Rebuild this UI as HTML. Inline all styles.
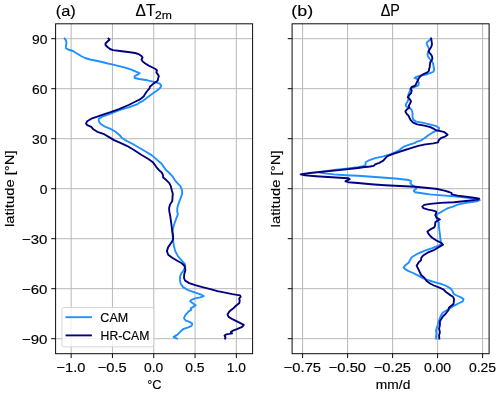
<!DOCTYPE html>
<html><head><meta charset="utf-8"><style>html,body{margin:0;padding:0;background:#fff;overflow:hidden}svg{display:block;will-change:transform}text{font-family:"Liberation Sans",sans-serif;fill:#000;stroke:#000;stroke-width:0.15px}</style></head><body>
<svg width="500" height="395" viewBox="0 0 500 395">
<rect x="0" y="0" width="500" height="395" fill="#fff"/>
<path transform="translate(0.10,0.20)" d="M71.05 23.60V353.50M112.35 23.60V353.50M153.65 23.60V353.50M194.95 23.60V353.50M236.25 23.60V353.50M55.50 38.50H252.50M55.50 88.50H252.50M55.50 138.50H252.50M55.50 188.50H252.50M55.50 238.50H252.50M55.50 288.50H252.50M55.50 338.50H252.50" stroke="#b8b8b8" stroke-width="1" fill="none"/>
<clipPath id="cl"><rect x="55.50" y="23.60" width="197.00" height="329.90"/></clipPath>
<polyline clip-path="url(#cl)" points="64.60,38.50 65.90,40.40 66.50,42.80 65.90,46.00 65.90,47.90 68.00,49.50 73.00,51.00 77.00,53.50 81.00,56.00 85.00,58.00 90.00,59.50 95.00,60.50 102.00,62.00 108.00,63.50 112.00,64.30 118.00,65.80 125.20,67.60 130.60,69.40 136.00,71.70 139.70,73.10 137.70,74.70 134.60,76.20 134.60,78.00 139.20,79.00 147.60,80.30 155.20,82.20 159.70,83.70 161.30,85.60 160.50,87.50 157.50,90.20 153.70,92.80 149.90,95.50 146.10,98.50 143.00,100.80 140.00,102.30 137.00,104.40 128.60,107.40 120.00,109.90 110.50,113.60 102.40,116.60 98.80,118.70 98.80,121.20 100.40,123.70 104.40,126.30 110.50,128.80 115.50,131.80 120.00,135.40 121.40,137.40 125.60,140.40 132.80,144.00 140.00,148.20 146.00,151.80 152.00,155.40 156.80,159.60 161.60,163.80 165.40,169.40 169.30,173.00 172.30,176.10 174.40,179.60 177.40,183.20 180.40,186.20 182.00,190.20 182.20,193.80 180.90,197.30 179.40,201.40 177.90,205.40 177.30,208.50 177.20,211.60 177.90,214.10 176.40,218.20 174.90,222.20 173.30,227.30 172.50,231.30 172.50,235.40 173.10,239.40 173.70,245.00 175.20,251.10 178.30,256.70 181.80,260.70 184.90,263.80 185.40,266.80 183.30,270.90 181.30,273.40 180.10,276.40 180.00,280.00 180.60,283.60 183.10,287.10 188.20,290.20 195.20,292.70 201.30,294.70 203.80,296.10 200.30,297.30 195.20,298.30 191.20,299.80 190.20,301.30 192.70,303.30 195.70,305.20 193.20,306.90 190.70,308.40 191.20,309.90 188.70,311.40 185.30,315.10 184.00,318.20 185.80,320.70 190.30,322.20 192.30,323.70 191.50,325.80 188.30,327.30 183.70,328.80 180.20,331.80 177.20,334.90 173.60,336.90 175.10,337.90 177.00,338.50" fill="none" stroke="#1e90ff" stroke-width="1.875" stroke-linejoin="round" stroke-linecap="square"/>
<polyline clip-path="url(#cl)" points="108.50,38.50 109.50,39.70 107.50,41.50 105.50,43.50 105.50,45.00 107.50,47.00 110.00,49.00 113.00,50.10 120.00,51.00 130.00,52.20 135.00,53.00 138.80,54.20 141.10,55.70 142.60,57.60 141.50,59.50 142.60,61.40 144.90,63.30 148.70,65.60 152.50,67.50 155.50,69.00 157.00,70.50 156.30,72.40 157.80,74.30 158.90,76.20 158.20,78.00 157.80,80.30 156.30,81.80 153.70,83.40 149.90,86.80 149.50,88.30 147.20,91.00 145.30,93.60 143.80,96.30 141.50,98.20 140.00,99.30 134.60,102.00 128.60,105.00 119.00,109.20 110.60,112.20 104.40,114.10 97.30,116.60 91.30,118.70 87.20,121.20 86.00,123.70 87.20,125.20 91.30,126.80 93.30,129.30 97.30,131.80 103.40,133.80 109.50,137.40 114.50,140.40 120.40,142.80 126.80,145.80 134.00,150.00 141.20,154.80 148.40,159.00 153.20,162.60 156.20,166.80 159.20,170.40 161.70,172.50 163.00,175.10 163.20,177.60 166.30,180.10 169.30,183.20 170.80,186.20 171.80,190.20 172.80,193.80 172.50,197.30 172.30,200.90 170.30,203.90 169.50,206.40 169.10,208.00 169.30,211.60 170.10,215.10 170.80,220.20 171.50,225.20 172.10,230.30 173.10,235.40 173.10,239.40 171.80,241.90 170.70,243.50 168.20,247.10 166.90,251.10 168.20,254.70 172.20,257.70 177.30,260.70 181.80,263.30 184.40,265.80 185.40,269.90 184.40,273.40 184.10,276.00 184.00,278.00 185.10,280.60 189.20,283.10 195.20,285.10 203.30,287.30 210.40,289.20 217.50,291.20 225.00,292.65 232.40,294.10 240.00,295.40 240.70,296.90 239.20,298.40 239.70,301.00 239.20,303.20 236.20,305.50 233.10,308.60 229.30,311.60 227.50,314.60 228.60,316.90 232.40,319.20 238.40,322.20 243.80,324.80 242.20,326.80 236.90,329.10 232.40,330.90 230.80,332.10 232.10,333.30 229.30,333.90 226.30,334.40 224.50,335.50 225.50,337.40 225.10,338.50" fill="none" stroke="#000080" stroke-width="1.875" stroke-linejoin="round" stroke-linecap="square"/>
<path transform="translate(0.10,0.20)" d="M302.50 23.60V353.50M347.50 23.60V353.50M392.50 23.60V353.50M437.50 23.60V353.50M482.50 23.60V353.50M292.00 38.50H489.00M292.00 88.50H489.00M292.00 138.50H489.00M292.00 188.50H489.00M292.00 238.50H489.00M292.00 288.50H489.00M292.00 338.50H489.00" stroke="#b8b8b8" stroke-width="1" fill="none"/>
<clipPath id="cr"><rect x="292.00" y="23.60" width="197.00" height="329.90"/></clipPath>
<polyline clip-path="url(#cr)" points="431.10,38.50 429.40,40.30 427.10,42.20 426.50,43.40 427.50,45.60 428.60,47.90 429.00,49.80 428.30,51.30 427.50,54.00 427.90,56.30 429.40,58.50 431.30,60.80 432.80,62.70 433.40,65.00 433.70,67.50 434.30,69.90 433.10,72.00 430.00,73.20 425.80,74.50 420.90,75.70 416.10,76.90 414.60,78.10 416.70,78.70 417.90,80.20 418.80,82.70 418.50,85.10 416.20,86.40 412.80,87.50 410.50,89.20 409.40,92.10 408.30,94.90 408.80,97.80 407.70,101.20 406.00,104.00 405.70,105.80 407.10,106.90 409.40,108.00 411.10,109.20 412.20,111.40 412.60,114.30 412.50,117.00 413.20,119.60 416.20,121.60 422.30,122.60 430.40,124.70 436.40,126.20 439.00,127.70 439.00,129.20 436.40,130.70 432.40,132.70 428.30,135.30 424.30,138.30 421.30,140.30 416.20,141.90 415.20,142.90 410.10,144.40 404.50,146.30 402.60,147.60 399.50,150.10 395.50,152.10 389.40,154.70 383.30,156.40 375.20,158.20 368.20,160.70 365.60,162.30 365.60,164.80 363.10,166.10 358.00,167.20 346.00,168.60 334.00,170.00 324.40,171.40 320.20,172.40 319.60,172.60 324.40,173.40 334.00,174.40 346.00,175.20 358.00,175.80 365.00,176.20 375.20,177.00 385.40,177.70 395.50,178.50 402.10,179.20 408.70,180.00 411.20,181.20 410.20,183.20 411.70,184.70 415.20,186.80 416.30,188.80 413.70,190.80 415.20,192.30 425.40,193.80 430.00,194.40 442.00,195.40 454.00,196.40 466.00,197.50 475.60,198.60 479.80,200.20 476.80,201.40 466.00,202.80 457.60,204.60 453.00,206.60 448.00,208.20 444.40,210.00 441.50,211.80 438.50,213.30 436.80,214.50 436.30,217.70 437.30,220.30 438.90,222.80 438.90,226.40 439.40,230.40 439.90,234.50 440.30,238.00 440.70,241.30 441.80,244.10 437.90,245.80 432.20,248.10 424.20,250.90 417.40,253.80 411.70,257.20 410.00,260.00 408.90,262.40 405.70,264.90 403.60,267.30 404.90,268.90 408.10,270.90 413.00,273.00 417.80,275.40 422.70,278.20 427.50,279.80 432.40,281.50 437.20,282.90 441.50,284.00 446.80,286.20 450.40,288.40 452.60,291.10 453.50,293.70 456.60,295.50 461.00,297.30 463.50,299.10 462.80,301.30 459.30,303.00 454.80,305.30 450.40,307.90 446.30,310.50 442.60,312.70 441.30,314.90 439.90,318.00 438.60,321.50 437.70,325.10 436.80,327.70 436.00,330.40 436.40,333.50 436.00,336.60 436.10,338.50" fill="none" stroke="#1e90ff" stroke-width="1.875" stroke-linejoin="round" stroke-linecap="square"/>
<polyline clip-path="url(#cr)" points="431.10,38.50 431.50,40.30 431.70,42.20 432.00,43.70 431.70,45.60 430.90,47.50 429.40,49.80 428.60,51.30 429.40,52.80 430.90,54.40 432.00,56.30 432.40,58.50 431.70,60.40 430.50,61.60 430.10,63.50 429.90,65.00 429.70,66.90 429.10,69.30 428.80,71.10 427.00,72.60 424.00,73.80 420.90,75.70 419.10,77.80 417.90,80.20 416.70,82.70 415.50,85.10 414.50,86.00 411.70,87.00 410.50,88.70 411.70,90.40 411.10,93.20 408.80,95.50 407.70,97.20 409.40,98.90 411.10,101.20 410.00,103.50 408.80,105.80 409.40,107.50 407.10,109.20 405.40,111.40 406.50,113.70 408.30,115.40 409.40,117.70 410.50,119.80 413.20,122.60 417.20,124.30 424.30,125.70 430.40,127.20 434.40,129.20 436.40,130.40 440.50,131.20 444.50,132.20 447.60,134.80 445.50,136.30 441.50,137.80 439.00,139.80 438.00,142.40 433.40,143.40 425.30,144.40 418.20,145.90 410.10,148.40 405.00,150.00 398.50,152.10 392.50,154.20 387.40,156.20 385.90,157.70 383.30,160.70 379.30,162.80 375.20,164.30 373.70,165.80 370.20,166.50 363.10,167.30 358.00,168.00 346.00,169.40 334.00,170.60 322.00,171.80 310.00,173.00 301.60,174.20 300.60,174.40 305.20,175.40 316.00,176.20 328.00,177.00 340.00,177.80 348.40,178.20 349.80,179.20 347.20,180.40 345.40,181.40 348.40,182.20 358.00,183.00 371.00,184.20 385.00,185.20 395.00,185.70 405.10,186.30 415.20,186.80 425.40,187.80 435.50,188.80 437.20,189.00 444.40,190.60 449.20,192.00 451.60,193.00 451.60,194.40 457.60,195.60 466.00,196.80 475.60,198.00 479.20,198.60 478.00,199.60 466.00,201.00 454.00,202.20 440.40,202.90 430.30,203.90 424.20,204.90 422.20,206.60 423.20,208.10 428.20,209.60 433.30,210.70 436.30,211.70 436.10,213.20 435.30,215.20 436.80,217.70 439.90,219.50 437.30,220.80 435.30,222.30 435.10,225.30 434.30,227.40 430.30,229.40 427.40,231.40 428.20,233.40 430.30,236.00 432.20,237.80 436.70,240.70 441.30,243.00 443.00,244.70 440.10,246.40 434.40,249.80 427.60,252.70 423.10,255.50 421.30,257.80 421.00,260.20 418.60,262.40 416.60,265.70 418.20,268.90 419.80,272.10 421.10,275.00 424.30,277.80 426.70,281.10 430.00,283.50 434.00,285.50 440.00,287.90 443.30,289.30 446.00,292.00 449.50,294.60 453.00,296.80 454.10,299.10 453.80,302.20 453.50,303.90 451.30,305.70 449.10,307.50 448.40,310.20 446.80,312.30 445.50,314.00 443.00,316.20 441.30,318.90 439.90,321.50 439.90,325.10 439.10,328.60 439.90,332.20 439.10,335.30 439.30,338.50" fill="none" stroke="#000080" stroke-width="1.875" stroke-linejoin="round" stroke-linecap="square"/>
<rect x="61.9" y="307.5" width="91.9" height="39.3" rx="2" ry="2" fill="#fff" fill-opacity="0.8" stroke="#cccccc" stroke-opacity="0.8" stroke-width="1"/>
<path d="M65.6 317.2H91.9" stroke="#1e90ff" stroke-width="1.875"/>
<path d="M65.6 335.4H91.9" stroke="#000080" stroke-width="1.875"/>
<rect transform="translate(0.10,0.20)" x="55.50" y="23.60" width="197.00" height="329.90" fill="none" stroke="#0a0a0a" stroke-width="1" stroke-linejoin="miter"/>
<rect transform="translate(0.10,0.20)" x="292.00" y="23.60" width="197.00" height="329.90" fill="none" stroke="#0a0a0a" stroke-width="1" stroke-linejoin="miter"/>
<path transform="translate(0.10,0.20)" d="M51.12 38.50H55.50M287.62 38.50H292.00M51.12 88.50H55.50M287.62 88.50H292.00M51.12 138.50H55.50M287.62 138.50H292.00M51.12 188.50H55.50M287.62 188.50H292.00M51.12 238.50H55.50M287.62 238.50H292.00M51.12 288.50H55.50M287.62 288.50H292.00M51.12 338.50H55.50M287.62 338.50H292.00M71.05 353.50V357.88M112.35 353.50V357.88M153.65 353.50V357.88M194.95 353.50V357.88M236.25 353.50V357.88M302.50 353.50V357.88M347.50 353.50V357.88M392.50 353.50V357.88M437.50 353.50V357.88M482.50 353.50V357.88" stroke="#0a0a0a" stroke-width="1" fill="none"/>
<text transform="translate(31.94,43.65) scale(1.0657,1)" font-size="13.00">90</text>
<text transform="translate(31.94,93.65) scale(1.0657,1)" font-size="13.00">60</text>
<text transform="translate(31.94,143.65) scale(1.0657,1)" font-size="13.00">30</text>
<text transform="translate(39.63,193.65) scale(1.0657,1)" font-size="13.00">0</text>
<text transform="translate(21.95,243.65) scale(1.1532,1)" font-size="13.00">−30</text>
<text transform="translate(21.95,293.65) scale(1.1532,1)" font-size="13.00">−60</text>
<text transform="translate(21.95,343.65) scale(1.1532,1)" font-size="13.00">−90</text>
<text transform="translate(56.52,371.80) scale(1.1263,1)" font-size="13.00">−1.0</text>
<text transform="translate(97.82,371.80) scale(1.1278,1)" font-size="13.00">−0.5</text>
<text transform="translate(144.00,371.80) scale(1.0667,1)" font-size="13.00">0.0</text>
<text transform="translate(185.29,371.80) scale(1.0687,1)" font-size="13.00">0.5</text>
<text transform="translate(226.77,371.80) scale(1.0598,1)" font-size="13.00">1.0</text>
<text transform="translate(283.76,371.80) scale(1.1349,1)" font-size="13.00">−0.75</text>
<text transform="translate(328.76,371.80) scale(1.1338,1)" font-size="13.00">−0.50</text>
<text transform="translate(373.76,371.80) scale(1.1349,1)" font-size="13.00">−0.25</text>
<text transform="translate(423.89,371.80) scale(1.0751,1)" font-size="13.00">0.00</text>
<text transform="translate(468.89,371.80) scale(1.0765,1)" font-size="13.00">0.25</text>
<text transform="translate(147.23,388.70) scale(0.9855,1)" font-size="13.00">°C</text>
<text transform="translate(375.87,388.70) scale(1.1038,1)" font-size="12.50">mm/d</text>
<text transform="translate(55.77,16.30) scale(1.0934,1)" font-size="15.00">(a)</text>
<text transform="translate(291.28,16.30) scale(1.1906,1)" font-size="15.00">(b)</text>
<text transform="translate(135.53,15.90) scale(0.9515,1)" font-size="16.30">ΔT</text>
<text transform="translate(154.89,18.70) scale(1.0876,1)" font-size="11.20">2m</text>
<text transform="translate(380.67,15.90) scale(0.8926,1)" font-size="16.10">ΔP</text>
<text transform="translate(14.10,227.10) rotate(-90) scale(1.1851,1)" font-size="12.50">latitude [°N]</text>
<text transform="translate(279.70,227.40) rotate(-90) scale(1.1899,1)" font-size="12.50">latitude [°N]</text>
<text transform="translate(100.37,321.60) scale(0.9643,1)" font-size="13.00">CAM</text>
<text transform="translate(100.59,339.60) scale(0.9387,1)" font-size="13.00">HR-CAM</text>
</svg></body></html>
